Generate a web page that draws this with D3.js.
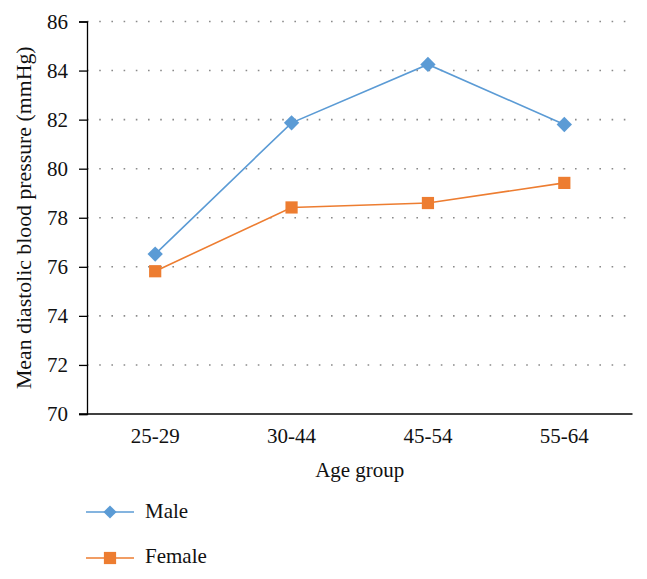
<!DOCTYPE html>
<html><head><meta charset="utf-8">
<script src="https://cdn.jsdelivr.net/npm/d3@7"></script>
<style>body{margin:0;background:#fff} svg text{font-family:'Liberation Serif','DejaVu Serif',serif !important;}</style>
</head><body><svg id="c" width="647" height="579"></svg>
<script>
const categories = ["25-29","30-44","45-54","55-64"];
const maleValues = [76.52, 81.87, 84.25, 81.80];
const femaleValues = [75.82, 78.42, 78.60, 79.42];
const yTicks = [70,72,74,76,78,80,82,84,86];
const seriesNames = ["Male","Female"];
const colors = ["#5B9BD5","#ED7D31"];

(function(){
const svg = d3.select("#c");
const font = "'Liberation Serif', 'DejaVu Serif', serif";
const fs = 21;
const pLeft = 87, pRight = 632.5, pTop = 21.5, pBottom = 414;
const x = d3.scaleBand().domain(categories).range([pLeft, pRight]);
const y = d3.scaleLinear().domain([70, 86]).range([pBottom, pTop]);

// gridlines
svg.append("g").selectAll("line").data(yTicks.slice(1)).join("line")
  .attr("x1", pLeft).attr("x2", pRight)
  .attr("y1", d => y(d)).attr("y2", d => y(d))
  .attr("stroke", "#8a8a8a").attr("stroke-width", 1.6)
  .attr("stroke-dasharray", "1.6,10.6");

// y axis
const ya = svg.append("g").attr("transform", `translate(${pLeft},0)`)
  .call(d3.axisLeft(y).tickValues(yTicks).tickSize(8).tickPadding(11).tickFormat(d3.format("d")))
  .attr("font-family", font).attr("font-size", fs);
ya.select(".domain").attr("stroke", "#000").attr("stroke-width", 1.3);
ya.selectAll(".tick line").attr("stroke", "#000").attr("stroke-width", 1.3);
ya.selectAll("text").attr("font-family", font).attr("font-size", fs).attr("fill", "#111");

// x axis
const xa = svg.append("g").attr("transform", `translate(0,${pBottom})`)
  .call(d3.axisBottom(x).tickSize(0).tickPadding(14).tickSizeOuter(0))
  .attr("font-family", font).attr("font-size", fs);
xa.select(".domain").remove();
svg.append("line").attr("x1", pLeft - 8).attr("x2", pRight).attr("y1", pBottom).attr("y2", pBottom)
  .attr("stroke", "#000").attr("stroke-width", 1.3);
xa.selectAll("text").attr("font-family", font).attr("font-size", fs).attr("fill", "#111");

// axis titles
svg.append("text").attr("x", (pLeft + pRight) / 2).attr("y", 477)
  .attr("text-anchor", "middle").attr("font-family", font).attr("font-size", fs).attr("fill", "#111")
  .text("Age group");
svg.append("text").attr("transform", `translate(31,${(pTop + pBottom) / 2}) rotate(-90)`)
  .attr("text-anchor", "middle").attr("font-family", font).attr("font-size", 21.8).attr("fill", "#111")
  .text("Mean diastolic blood pressure (mmHg)");

const cx = d => x(d) + x.bandwidth() / 2;
const data = [maleValues, femaleValues];
const line = d3.line().x((d, i) => cx(categories[i])).y(d => y(d));
const sym = [d3.symbol().type(d3.symbolDiamond2).size(150), d3.symbol().type(d3.symbolSquare2).size(190)];
const symLeg = [d3.symbol().type(d3.symbolDiamond2).size(110), d3.symbol().type(d3.symbolSquare2).size(190)];

data.forEach((vals, s) => {
  svg.append("path").datum(vals).attr("d", line).attr("fill", "none")
    .attr("stroke", colors[s]).attr("stroke-width", 1.6);
  svg.append("g").selectAll("path").data(vals).join("path")
    .attr("transform", (d, i) => `translate(${cx(categories[i])},${y(d)})`)
    .attr("d", sym[s]).attr("fill", colors[s]);
});

// legend
const legY = [512, 558];
const legText = [517.5, 563];
seriesNames.forEach((n, s) => {
  const g = svg.append("g");
  g.append("line").attr("x1", 86).attr("x2", 134).attr("y1", legY[s]).attr("y2", legY[s])
    .attr("stroke", colors[s]).attr("stroke-width", 1.6);
  g.append("path").attr("transform", `translate(110,${legY[s]})`).attr("d", symLeg[s]).attr("fill", colors[s]);
  g.append("text").attr("x", 145).attr("y", legText[s]).attr("font-family", font).attr("font-size", fs)
    .attr("fill", "#111").text(n);
});
})();
</script></body></html>
